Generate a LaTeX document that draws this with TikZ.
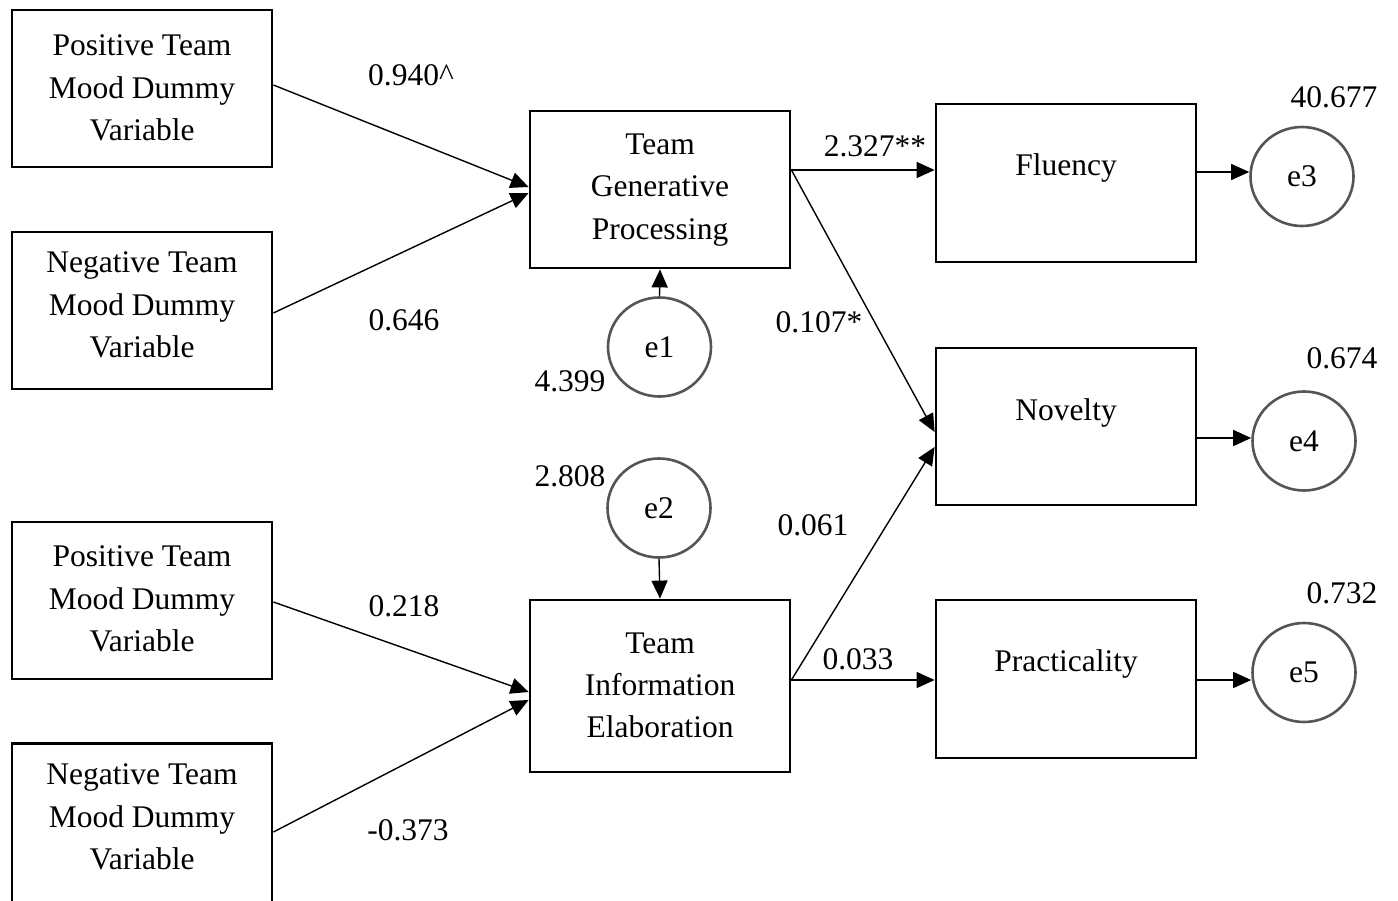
\documentclass[tikz,border=0pt]{standalone}
\usepackage{fontspec}
\setmainfont{Liberation Serif}
\usetikzlibrary{arrows.meta,shapes.geometric}
\definecolor{errgray}{HTML}{555555}
\tikzset{
  varbox/.style={draw=black, line width=2.8pt, rectangle, minimum width=260pt, inner sep=0pt},
  errnode/.style={draw=errgray, line width=2.6pt, ellipse, minimum width=103pt, minimum height=99pt, inner sep=0pt},
  txt/.style={align=center, inner sep=0pt},
  path/.style={line width=1.4pt, -{Triangle[length=18pt,width=16pt]}},
}
\begin{document}
\begin{tikzpicture}[x=1pt,y=-1pt,font=\fontsize{31.5}{42.3}\selectfont]
\useasboundingbox (0,0) rectangle (1398,901);

% exogenous mood dummies
\node[varbox, minimum height=157pt] (p1) at (142,88.5) {};
\node[txt] (p1t) at (142,88) {Positive Team\\Mood Dummy\\Variable};
\node[varbox, minimum height=157pt] (n1) at (142,310.5) {};
\node[txt] (n1t) at (142,305) {Negative Team\\Mood Dummy\\Variable};
\node[varbox, minimum height=157pt] (p2) at (142,600.5) {};
\node[txt] (p2t) at (142,599) {Positive Team\\Mood Dummy\\Variable};
\node[varbox, minimum height=160pt] (n2) at (142,823.5) {};
\node[txt] (n2t) at (142,817) {Negative Team\\Mood Dummy\\Variable};

% mediators
\node[varbox, minimum height=157pt] (tgp) at (660,189.5) {};
\node[txt] (tgpt) at (660,190) {Team\\Generative\\Processing};
\node[varbox, minimum height=172pt] (tie) at (660,686) {};
\node[txt] (tiet) at (660,685.5) {Team\\Information\\Elaboration};

% outcomes
\node[varbox, minimum height=158pt] (flu) at (1066,183) {};
\node[txt] (flut) at (1066,168) {Fluency};
\node[varbox, minimum height=157pt] (nov) at (1066,426.5) {};
\node[txt] (novt) at (1066,413) {Novelty};
\node[varbox, minimum height=158pt] (pra) at (1066,679) {};
\node[txt] (prat) at (1066,664) {Practicality};

% error terms
\node[errnode] (e1) at (659.5,347) {e1};
\node[errnode] (e2) at (659,508) {e2};
\node[errnode] (e3) at (1302,176.5) {e3};
\node[errnode] (e4) at (1304,441) {e4};
\node[errnode] (e5) at (1304,672.5) {e5};

% regression paths
\draw[path] ([yshift=3.5pt]p1.east) -- ([yshift=2.5pt]tgp.west);
\draw[path] ([yshift=-2.5pt]n1.east) -- ([yshift=-3.5pt]tgp.west);
\draw[path] ([yshift=-1.5pt]p2.east) -- ([yshift=-6pt]tie.west);
\draw[path] ([yshift=-8.5pt]n2.east) -- ([yshift=-14pt]tie.west);
\draw[path] ([yshift=19.5pt]tgp.east) -- ([yshift=13pt]flu.west);
\draw[path] ([yshift=19.5pt]tgp.east) -- ([yshift=-5.5pt]nov.west);
\draw[path] ([yshift=6pt]tie.east) -- ([yshift=-20.5pt]nov.west);
\draw[path] ([yshift=6pt]tie.east) -- ([yshift=-1pt]pra.west);

% error paths
\draw[path] (e1.north) -- (tgp.south);
\draw[path] (e2.south) -- (tie.north);
\draw[path] ([yshift=11pt]flu.east) -- ([yshift=4.5pt]e3.west);
\draw[path] ([yshift=-11.5pt]nov.east) -- ([yshift=3pt]e4.west);
\draw[path] ([yshift=-1pt]pra.east) -- ([yshift=-7.5pt]e5.west);

% estimates
\node[txt] (c1) at (411,75) {0.940\textasciicircum};
\node[txt] (c2) at (404,320) {0.646};
\node[txt] (c3) at (404,606) {0.218};
\node[txt] (c4) at (408,830) {-0.373};
\node[txt] (c5) at (875,146) {2.327**};
\node[txt] (c6) at (819,322) {0.107*};
\node[txt] (c7) at (813,525) {0.061};
\node[txt] (c8) at (858,659) {0.033};
\node[txt] (v1) at (570,381) {4.399};
\node[txt] (v2) at (570,476) {2.808};
\node[txt] (v3) at (1334,97) {40.677};
\node[txt] (v4) at (1342,358) {0.674};
\node[txt] (v5) at (1342,593) {0.732};
\end{tikzpicture}
\end{document}
